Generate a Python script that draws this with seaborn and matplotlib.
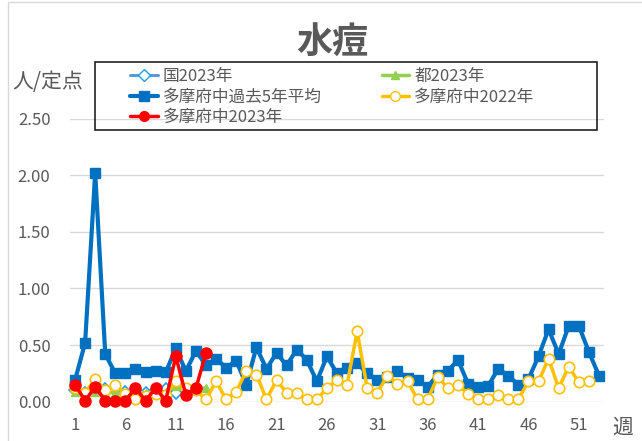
import matplotlib
matplotlib.use("Agg")
import matplotlib.pyplot as plt
from matplotlib.patches import Rectangle
from matplotlib.lines import Line2D
import seaborn as sns
import numpy as np

# ---- data ----
weeks_all = list(range(1, 54))
tick_weeks = [1, 6, 11, 16, 21, 26, 31, 36, 41, 46, 51]

avg5 = [0.19, 0.52, 2.02, 0.42, 0.25, 0.25, 0.29, 0.26, 0.27, 0.26,
        0.47, 0.27, 0.45, 0.32, 0.38, 0.30, 0.36, 0.15, 0.48, 0.29,
        0.43, 0.32, 0.46, 0.37, 0.18, 0.40, 0.25, 0.30, 0.34, 0.25,
        0.19, 0.22, 0.27, 0.21, 0.19, 0.13, 0.24, 0.27, 0.37, 0.16,
        0.13, 0.14, 0.29, 0.23, 0.15, 0.20, 0.40, 0.64, 0.42, 0.67,
        0.67, 0.44, 0.23]

tama2022 = [0.12, 0.08, 0.20, 0.10, 0.15, 0.07, 0.02, 0.05, 0.07, 0.06,
            0.18, 0.12, 0.10, 0.02, 0.18, 0.02, 0.09, 0.27, 0.24, 0.02,
            0.19, 0.08, 0.08, 0.02, 0.02, 0.12, 0.19, 0.15, 0.62, 0.12,
            0.08, 0.23, 0.16, 0.18, 0.02, 0.02, 0.22, 0.12, 0.15, 0.07,
            0.02, 0.02, 0.06, 0.02, 0.02, 0.18, 0.18, 0.38, 0.12, 0.31,
            0.17, 0.18]

tama2023 = [0.15, 0.01, 0.13, 0.01, 0.01, 0.01, 0.12, 0.01, 0.12, 0.01,
            0.40, 0.06, 0.12, 0.43]

national2023 = [0.10, 0.08, 0.11, 0.11, 0.10, 0.09, 0.10, 0.08, 0.10, 0.11,
                0.08, 0.10, 0.11]

tokyo2023 = [0.09, 0.08, 0.09, 0.08, 0.08, 0.07, 0.08, 0.08, 0.08, 0.09,
             0.14, 0.12, 0.12, 0.12]

labels = {
    "nat": "国2023年",
    "tokyo": "都2023年",
    "avg": "多摩府中過去5年平均",
    "t22": "多摩府中2022年",
    "t23": "多摩府中2023年",
}

# ---- style ----
sns.set_theme(style="white")
plt.rcParams["font.family"] = ["Noto Sans CJK JP", "DejaVu Sans"]
TXT = "#595959"

W, H = 642, 441
fig = plt.figure(figsize=(W / 100, H / 100), dpi=100)
ax = fig.add_axes([70 / W, 1 - 401.7 / H, (604 - 70) / W, (401.7 - 118.5) / H])

C_NAT_LINE = "#5B9BD5"
C_NAT_MK = "#1EA0F0"
C_TOKYO = "#92D050"
C_AVG = "#0070C0"
C_22 = "#FFC000"
C_23 = "#FF0000"

sns.lineplot(x=weeks_all[:len(national2023)], y=national2023, ax=ax,
             color=C_NAT_LINE, linewidth=2.2, marker="D", markersize=6,
             markerfacecolor="white", markeredgecolor=C_NAT_MK,
             markeredgewidth=1.2, clip_on=False, zorder=2)
sns.lineplot(x=weeks_all[:len(tokyo2023)], y=tokyo2023, ax=ax,
             color=C_TOKYO, linewidth=2.5, marker="^", markersize=6,
             markerfacecolor=C_TOKYO, markeredgecolor=C_TOKYO,
             markeredgewidth=1, clip_on=False, zorder=2)
sns.lineplot(x=weeks_all[:len(avg5)], y=avg5, ax=ax,
             color=C_AVG, linewidth=3.0, marker="s", markersize=7,
             markerfacecolor=C_AVG, markeredgecolor=C_AVG,
             markeredgewidth=1, clip_on=False, zorder=3)
sns.lineplot(x=weeks_all[:len(tama2022)], y=tama2022, ax=ax,
             color=C_22, linewidth=2.5, marker="o", markersize=7.5,
             markerfacecolor="white", markeredgecolor=C_22,
             markeredgewidth=1.2, clip_on=False, zorder=4)
sns.lineplot(x=weeks_all[:len(tama2023)], y=tama2023, ax=ax,
             color=C_23, linewidth=2.5, marker="o", markersize=8,
             markerfacecolor=C_23, markeredgecolor=C_23,
             markeredgewidth=1, clip_on=False, zorder=5)

ax.set_xlim(0.5, 53.5)
ax.set_ylim(0, 2.5)
ax.set_xticks(tick_weeks)
ax.set_xticklabels([str(w) for w in tick_weeks])
yt = np.arange(0, 2.51, 0.5)
ax.set_yticks(yt)
ax.set_yticklabels([f"{v:.2f}" for v in yt])
ax.tick_params(axis="both", length=0, labelsize=12, colors=TXT)
ax.tick_params(axis="y", pad=14)
ax.tick_params(axis="x", pad=11)
ax.grid(axis="y", color="#D9D9D9", linewidth=1)
ax.grid(axis="x", visible=False)
for s in ax.spines.values():
    s.set_visible(False)
ax.set_xlabel("")
ax.set_ylabel("")
ax.set_facecolor("none")

# ---- texts ----
fig.text(332 / W, 1 - 43 / H, "水痘", fontsize=26, fontweight="bold",
         color=TXT, ha="center", va="center")
fig.text(12 / W, 1 - 82 / H, "人/定点", fontsize=15, color=TXT,
         ha="left", va="center")
fig.text(612 / W, 1 - 428 / H, "週", fontsize=15, color=TXT,
         ha="left", va="center")

# ---- legend ----
def h(color, lw, marker, ms, mfc, mec):
    return Line2D([], [], color=color, linewidth=lw, marker=marker,
                  markersize=ms, markerfacecolor=mfc, markeredgecolor=mec)

handles = [
    h(C_NAT_LINE, 2.2, "D", 6, "white", C_NAT_MK),
    h(C_AVG, 3.0, "s", 7, C_AVG, C_AVG),
    h(C_23, 2.5, "o", 7, C_23, C_23),
    h(C_TOKYO, 2.5, "^", 6, C_TOKYO, C_TOKYO),
    h(C_22, 2.5, "o", 7, "white", C_22),
]
leg_labels = [labels["nat"], labels["avg"], labels["t23"], labels["tokyo"], labels["t22"]]
leg = fig.legend(handles, leg_labels, ncol=2, frameon=False,
                 loc="upper left", bbox_to_anchor=(122 / W, 1 - 60 / H),
                 bbox_transform=fig.transFigure, borderpad=0,
                 fontsize=12, labelspacing=0.2, handlelength=1.65,
                 handletextpad=0.3, columnspacing=3.6, labelcolor=TXT)
fig.patches.append(Rectangle((95 / W, 1 - 130 / H), (597 - 95) / W, 68 / H,
                             transform=fig.transFigure, fill=False,
                             edgecolor="#222222", linewidth=1.2, zorder=10))

# chart area border (light)
fig.patches.append(Rectangle((8 / W, -0.05), 1.2, 1.05 - 2 / H,
                             transform=fig.transFigure, fill=False,
                             edgecolor="#D9D9D9", linewidth=1.0))

fig.savefig("out.png", dpi=100, facecolor="white")
